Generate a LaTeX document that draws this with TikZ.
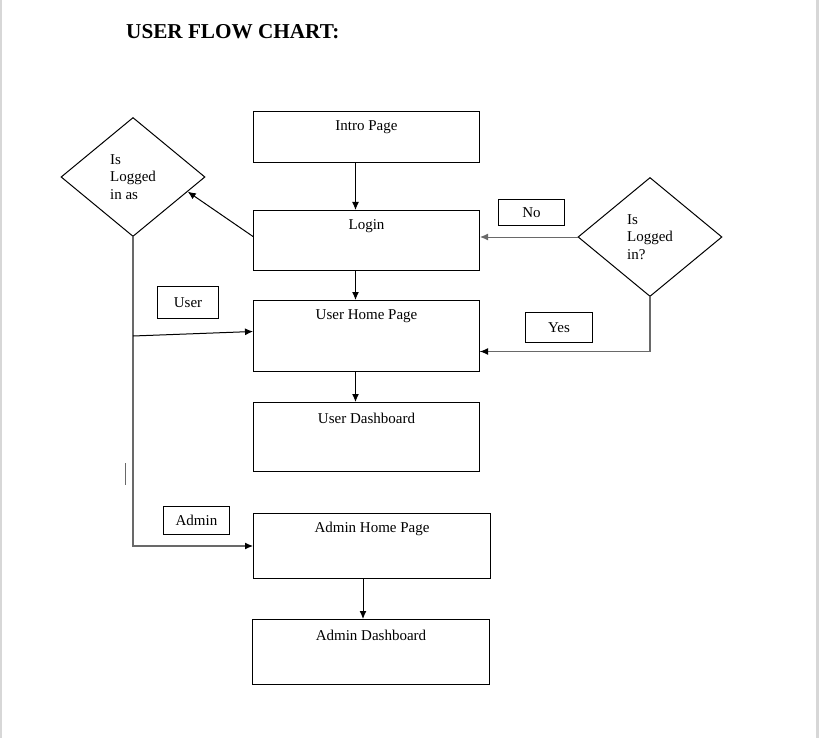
\documentclass[tikz,border=0pt]{standalone}
\usepackage{fontspec}
\setmainfont{Liberation Serif}
\usetikzlibrary{shapes.geometric, arrows.meta}
\definecolor{linegray}{RGB}{105,105,105}
\definecolor{edgegray}{RGB}{215,215,215}

\begin{document}
\begin{tikzpicture}[x  = 1pt,
                    y  = -1pt,
                    font = \fontsize{15}{17.5}\selectfont,
                    box/.style = {draw, line width=1pt, anchor=north west, inner sep=0pt},
                    boxtitle/.style = {anchor=center, inner sep=0pt, yshift=-16pt},
                    tag/.style = {draw, line width=1pt, anchor=north west, inner sep=0pt},
                    decision/.style = {draw, diamond, line width=1pt, inner sep=0pt, align=left,
                                       minimum width=144, minimum height=119},
                    arrow/.style = {line width=1pt, -{Latex[length=8pt, width=7pt]}},
                    branch/.style = {linegray, line width=1.6pt}]

    \def\w{226}

    \useasboundingbox (0,0) rectangle (819,738);
    \draw[edgegray, line width=2pt] (1,0) -- (1,738);
    \draw[edgegray, line width=3pt] (817.5,0) -- (817.5,738);

    \node[font=\bfseries\fontsize{21.2}{25}\selectfont, anchor=base west, inner sep=0pt]
        (title) at (126,39) {USER FLOW CHART:};

    \node[box, minimum width=\w, minimum height=51, label={[boxtitle]north:Intro Page}]
        (intro) at (253,111) {};
    \node[box, minimum width=\w, minimum height=60, label={[boxtitle]north:Login}]
        (login) at (253,210) {};
    \node[box, minimum width=\w, minimum height=71, label={[boxtitle]north:User Home Page}]
        (userhome) at (253,300) {};
    \node[box, minimum width=\w, minimum height=69, label={[boxtitle]north:User Dashboard}]
        (userdash) at (253,402) {};
    \node[box, minimum width=237, minimum height=65, label={[boxtitle]north:Admin Home Page}]
        (adminhome) at (253,513) {};
    \node[box, minimum width=237, minimum height=65, label={[boxtitle]north:Admin Dashboard}]
        (admindash) at (252,619) {};

    \node[decision] (loggedas) at (133,177) {Is\\Logged\\in as};
    \node[decision] (loggedin) at (650,237) {Is\\Logged\\in?};

    \node[tag, minimum width=66, minimum height=26] (no) at (498,199) {No};
    \node[tag, minimum width=67, minimum height=30] (yes) at (525,312) {Yes};
    \node[tag, minimum width=61, minimum height=32] (user) at (157,286) {User};
    \node[tag, minimum width=66, minimum height=28] (admin) at (163,506) {Admin};

    \draw[arrow] ([xshift=-11pt]intro.south) -- ([xshift=-11pt]login.north);
    \draw[arrow] ([xshift=-11pt]login.south) -- ([xshift=-11pt]userhome.north);
    \draw[arrow] ([xshift=-11pt]userhome.south) -- ([xshift=-11pt]userdash.north);
    \draw[arrow] ([xshift=-9pt]adminhome.south) -- ([xshift=-9pt]adminhome.south |- admindash.north);

    \draw[arrow] ([yshift=4pt]login.west) -- (loggedas.-15);
    \draw[arrow, draw=linegray] (loggedin.west) -- (loggedin.west -| login.east);
    \draw[branch] (loggedin.south) |- ([yshift=-15.5pt]userhome.east);
    \draw[arrow] ([xshift=3pt,yshift=-15.5pt]userhome.east) -- ([yshift=-15.5pt]userhome.east);

    \coordinate (split) at (133,336);
    \draw[branch] (loggedas.south) |- ([xshift=-3pt]adminhome.west);
    \draw[arrow] ([xshift=-3pt]adminhome.west) -- (adminhome.west);
    \draw[arrow] (split) -- ([yshift=4.5pt]userhome.west);

    \draw[linegray, line width=0.8pt] (125,463) -- (125,485);

\end{tikzpicture}
\end{document}
